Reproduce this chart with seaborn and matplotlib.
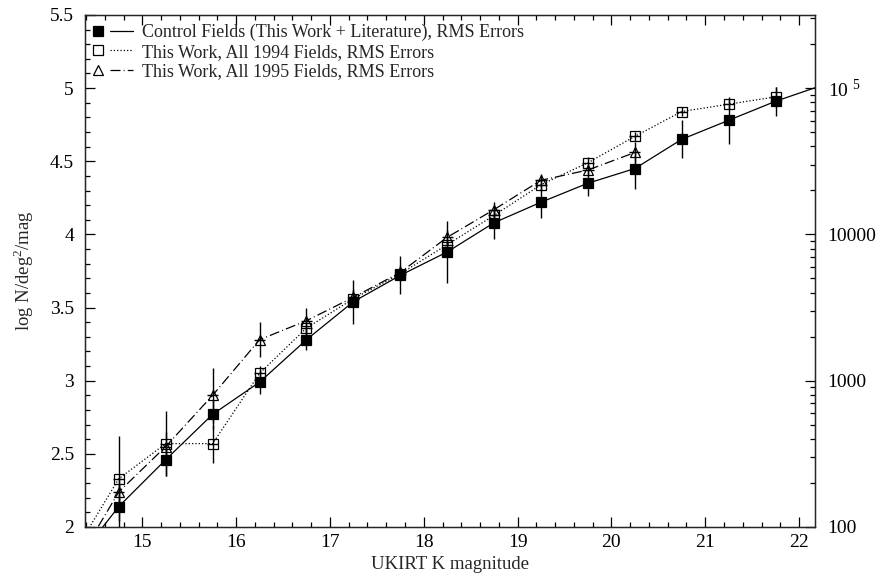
import numpy as np
import pandas as pd
import matplotlib
matplotlib.use("Agg")
import matplotlib.pyplot as plt
import seaborn as sns
from matplotlib.lines import Line2D
from matplotlib.legend_handler import HandlerTuple
from matplotlib.ticker import MultipleLocator, FixedLocator

# ---- data ----
mag_control = [14.25, 14.75, 15.25, 15.75, 16.25, 16.75, 17.25, 17.75, 18.25,
               18.75, 19.25, 19.75, 20.25, 20.75, 21.25, 21.75, 22.25]
logn_control = [1.73, 2.14, 2.46, 2.77, 2.99, 3.28, 3.54, 3.72, 3.88,
                4.08, 4.22, 4.35, 4.45, 4.65, 4.78, 4.91, 5.02]
err_control = [0.0, 0.15, 0.11, 0.10, 0.08, 0.07, 0.15, 0.13, 0.21,
               0.11, 0.11, 0.09, 0.14, 0.13, 0.16, 0.10, 0.0]

mag_1994 = [14.25, 14.75, 15.25, 15.75, 16.25, 16.75, 17.25, 17.75,
            18.25, 18.75, 19.25, 19.75, 20.25, 20.75, 21.25, 21.75]
logn_1994 = [1.80, 2.33, 2.57, 2.57, 3.05, 3.36, 3.56, 3.73,
             3.93, 4.13, 4.34, 4.49, 4.67, 4.84, 4.89, 4.94]
err_1994 = [0.0, 0.29, 0.22, 0.13, 0.05, 0.05, 0.05, 0.05,
            0.04, 0.04, 0.04, 0.04, 0.03, 0.03, 0.03, 0.07]

mag_1995 = [14.25, 14.75, 15.25, 15.75, 16.25, 16.75, 17.25, 17.75,
            18.25, 18.75, 19.25, 19.75, 20.25]
logn_1995 = [1.70, 2.24, 2.55, 2.90, 3.28, 3.41, 3.57, 3.74,
             3.98, 4.17, 4.37, 4.44, 4.56]
err_1995 = [0.0, 0.10, 0.10, 0.19, 0.12, 0.09, 0.06, 0.05,
            0.05, 0.05, 0.04, 0.04, 0.07]

labels = ["Control Fields (This Work + Literature), RMS Errors",
          "This Work, All 1994 Fields, RMS Errors",
          "This Work, All 1995 Fields, RMS Errors"]

right_tick_vals = [2, 3, 4, 5]
right_tick_labels = ["100", "1000", "10000", r"10 $^{\mathregular{5}}$"]

# ---- style ----
sns.set_theme(style="ticks")
plt.rcParams["font.family"] = ["Liberation Serif", "DejaVu Serif"]
plt.rcParams["mathtext.fontset"] = "custom"
plt.rcParams["mathtext.rm"] = "Liberation Serif"
plt.rcParams["font.size"] = 13

fig = plt.figure(figsize=(8.83, 5.75), dpi=100)
ax = fig.add_axes([0.0963, 0.0835, 0.8267, 0.8905])

dash_1995 = (0, (8, 2.5, 0.8, 2.5))

series = [
    (mag_control, logn_control, err_control, "-", "s", "black", 7.0),
    (mag_1994, logn_1994, err_1994, ":", "s", "none", 6.5),
    (mag_1995, logn_1995, err_1995, dash_1995, "^", "none", 7.5),
]

for mags, vals, errs, ls, mk, mfc, ms in series:
    df = pd.DataFrame({"mag": mags, "logn": vals})
    ax.errorbar(mags, vals, yerr=errs,
                xerr=None if mfc == "black" else 0.06,
                fmt="none", ecolor="black", elinewidth=1.0, capsize=0, zorder=2)
    sns.lineplot(data=df, x="mag", y="logn", ax=ax, color="black",
                 linestyle=ls, linewidth=0.9, marker=mk, markersize=ms,
                 markerfacecolor=mfc, markeredgecolor="black",
                 markeredgewidth=0.9, errorbar=None, zorder=3)

ax.set_xlim(14.39, 22.17)
ax.set_ylim(2.0, 5.5)
ax.xaxis.set_major_locator(MultipleLocator(1))
ax.xaxis.set_minor_locator(MultipleLocator(0.2))
ax.yaxis.set_minor_locator(MultipleLocator(0.1))
ax.set_yticks([2, 2.5, 3, 3.5, 4, 4.5, 5, 5.5])
ax.set_yticklabels(["2", "2.5", "3", "3.5", "4", "4.5", "5", "5.5"])
ax.tick_params(which="both", direction="in", top=True, right=False,
               colors="black", labelsize=14, width=0.9)
ax.tick_params(which="major", length=7)
ax.tick_params(which="minor", length=3.5)
ax.tick_params(axis="y", which="major", pad=8)
ax.tick_params(axis="x", which="major", pad=5)
ax.set_xlabel("UKIRT K magnitude", fontsize=13.5, labelpad=4)
ax.set_ylabel(r"log N/deg$^{\mathregular{2}}$/mag", fontsize=13.5, labelpad=10)
for sp in ax.spines.values():
    sp.set_linewidth(0.9)
    sp.set_color("black")

# right axis: N in linear units on log scale positions
ax2 = ax.twinx()
ax2.set_ylim(ax.get_ylim())
ax2.yaxis.set_major_locator(FixedLocator(right_tick_vals))
ax2.set_yticklabels(right_tick_labels)
minor = [np.log10(k * 10 ** n) for n in range(2, 6) for k in range(2, 10)]
minor = [m for m in minor if 2.0 < m < 5.5]
ax2.yaxis.set_minor_locator(FixedLocator(minor))
ax2.tick_params(which="both", direction="in", colors="black", labelsize=14, width=0.9)
ax2.tick_params(which="major", length=7, pad=9)
ax2.tick_params(which="minor", length=3.5)
for sp in ax2.spines.values():
    sp.set_linewidth(0.9)

# legend: marker then line segment
handles = []
for mags, vals, errs, ls, mk, mfc, ms in series:
    hm = Line2D([], [], marker=mk, linestyle="none", markersize=ms,
                markerfacecolor=mfc, markeredgecolor="black", markeredgewidth=0.9)
    hl = Line2D([], [], color="black", linestyle=ls, linewidth=0.9)
    handles.append((hm, hl))
ax.legend(handles, labels, loc="upper left", bbox_to_anchor=(-0.003, 0.990),
          frameon=False, fontsize=13,
          handler_map={tuple: HandlerTuple(ndivide=None, pad=0.0)},
          handlelength=2.6, handletextpad=0.5, labelspacing=0.15,
          borderaxespad=0.0, borderpad=0.2)

fig.savefig("out.png", dpi=100)
